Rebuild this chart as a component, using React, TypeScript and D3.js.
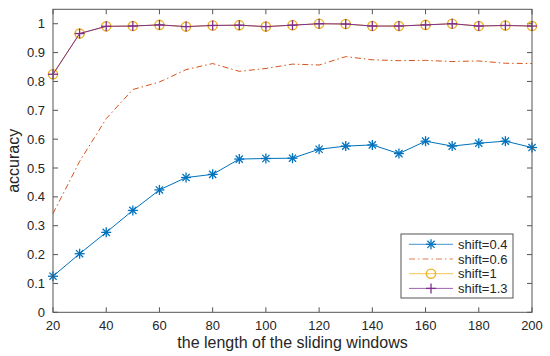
import React from "react";
import * as d3 from "d3";

const windowLengths = [20, 30, 40, 50, 60, 70, 80, 90, 100, 110, 120, 130, 140, 150, 160, 170, 180, 190, 200];
const shift04 = [0.125, 0.203, 0.277, 0.353, 0.424, 0.467, 0.478, 0.531, 0.533, 0.534, 0.565, 0.576, 0.58, 0.55, 0.593, 0.576, 0.586, 0.593, 0.571];
const shift06 = [0.342, 0.523, 0.671, 0.772, 0.798, 0.841, 0.862, 0.835, 0.845, 0.86, 0.857, 0.886, 0.875, 0.872, 0.873, 0.869, 0.871, 0.863, 0.862];
const shift1 = [0.825, 0.966, 0.991, 0.992, 0.996, 0.99, 0.994, 0.995, 0.99, 0.995, 1.0, 0.999, 0.992, 0.992, 0.996, 1.0, 0.992, 0.994, 0.992];
const shift13 = [0.825, 0.966, 0.991, 0.992, 0.996, 0.99, 0.994, 0.995, 0.99, 0.995, 1.0, 0.999, 0.992, 0.992, 0.996, 1.0, 0.992, 0.994, 0.992];
const seriesNames = ["shift=0.4", "shift=0.6", "shift=1", "shift=1.3"];
const xTicks = [20, 40, 60, 80, 100, 120, 140, 160, 180, 200];
const yTicks = [0, 0.1, 0.2, 0.3, 0.4, 0.5, 0.6, 0.7, 0.8, 0.9, 1];

const FONT = "'Liberation Sans', Arial, Helvetica, sans-serif";
const TXT = "#262626";
const AX = "#555";

type Marker = "star" | "none" | "circle" | "plus";

function MarkerShape({ kind, x, y, color }: { kind: Marker; x: number; y: number; color: string }) {
  if (kind === "star") {
    const h = 5, d = 3.6;
    return (
      <g stroke={color} strokeWidth={1.3}>
        <line x1={x - h} y1={y} x2={x + h} y2={y} />
        <line x1={x} y1={y - h} x2={x} y2={y + h} />
        <line x1={x - d} y1={y - d} x2={x + d} y2={y + d} />
        <line x1={x - d} y1={y + d} x2={x + d} y2={y - d} />
      </g>
    );
  }
  if (kind === "circle") {
    return <circle cx={x} cy={y} r={4.6} fill="none" stroke={color} strokeWidth={1.4} />;
  }
  if (kind === "plus") {
    const h = 5;
    return (
      <g stroke={color} strokeWidth={1.3}>
        <line x1={x - h} y1={y} x2={x + h} y2={y} />
        <line x1={x} y1={y - h} x2={x} y2={y + h} />
      </g>
    );
  }
  return null;
}

export default function App() {
  const W = 550, H = 356;
  const left = 53, right = 532, top = 9.3, bottom = 312.3;
  const x = d3.scaleLinear().domain([20, 200]).range([left, right]);
  const y = d3.scaleLinear().domain([0, 1.05]).range([bottom, top]);

  const series = [
    { name: seriesNames[0], values: shift04, color: "#0072BD", dash: "", marker: "star" as Marker },
    { name: seriesNames[1], values: shift06, color: "#D95319", dash: "6,3,1.5,3", marker: "none" as Marker },
    { name: seriesNames[2], values: shift1, color: "#EDB120", dash: "", marker: "circle" as Marker },
    { name: seriesNames[3], values: shift13, color: "#7E2F8E", dash: "", marker: "plus" as Marker },
  ];

  const line = d3
    .line<number>()
    .x((_, i) => x(windowLengths[i]))
    .y((v) => y(v));

  const tickLen = 5;
  const legX = 401, legY = 234, legW = 112, legH = 64;
  const rowH = 14.7;

  return (
    <svg width={W} height={H} style={{ position: "absolute", left: 0, top: 0, background: "#fff" }} fontFamily={FONT}>
      <rect x={0} y={0} width={W} height={H} fill="#fff" />
      {/* ticks */}
      <g stroke={AX} strokeWidth={1}>
        {xTicks.map((t) => (
          <g key={"xt" + t}>
            <line x1={x(t)} x2={x(t)} y1={bottom} y2={bottom - tickLen} />
            <line x1={x(t)} x2={x(t)} y1={top} y2={top + tickLen} />
          </g>
        ))}
        {yTicks.map((t) => (
          <g key={"yt" + t}>
            <line x1={left} x2={left + tickLen} y1={y(t)} y2={y(t)} />
            <line x1={right} x2={right - tickLen} y1={y(t)} y2={y(t)} />
          </g>
        ))}
      </g>
      {/* series */}
      {series.map((s) => (
        <g key={s.name}>
          <path d={line(s.values) || ""} fill="none" stroke={s.color} strokeWidth={1} strokeDasharray={s.dash || undefined} />
          {s.marker !== "none" &&
            s.values.map((v, i) => (
              <MarkerShape key={i} kind={s.marker} x={x(windowLengths[i])} y={y(v)} color={s.color} />
            ))}
        </g>
      ))}
      {/* box */}
      <rect x={left} y={top} width={right - left} height={bottom - top} fill="none" stroke={AX} strokeWidth={1} />
      {/* tick labels */}
      <g fill={TXT} fontSize={13}>
        {xTicks.map((t) => (
          <text key={"xl" + t} x={x(t)} y={bottom + 18} textAnchor="middle">
            {t}
          </text>
        ))}
        {yTicks.map((t) => (
          <text key={"yl" + t} x={45} y={y(t) + 4.5} textAnchor="end">
            {d3.format("~g")(t)}
          </text>
        ))}
      </g>
      {/* axis titles */}
      <text x={(left + right) / 2} y={348} textAnchor="middle" fontSize={16} fill={TXT}>
        the length of the sliding windows
      </text>
      <text transform={`translate(19,${(top + bottom) / 2}) rotate(-90)`} textAnchor="middle" fontSize={16} fill={TXT}>
        accuracy
      </text>
      {/* legend */}
      <g>
        <rect x={legX} y={legY} width={legW} height={legH} fill="#fff" stroke={AX} strokeWidth={1} />
        {series.map((s, i) => {
          const cy = legY + 10.3 + i * rowH;
          return (
            <g key={"lg" + s.name}>
              <line x1={409} x2={453} y1={cy} y2={cy} stroke={s.color} strokeWidth={1} strokeOpacity={0.75} strokeDasharray={s.dash || undefined} />
              {s.marker !== "none" && <MarkerShape kind={s.marker} x={431} y={cy} color={s.color} />}
              <text x={458} y={cy + 4.6} fontSize={13} fill={TXT}>
                {s.name}
              </text>
            </g>
          );
        })}
      </g>
    </svg>
  );
}
